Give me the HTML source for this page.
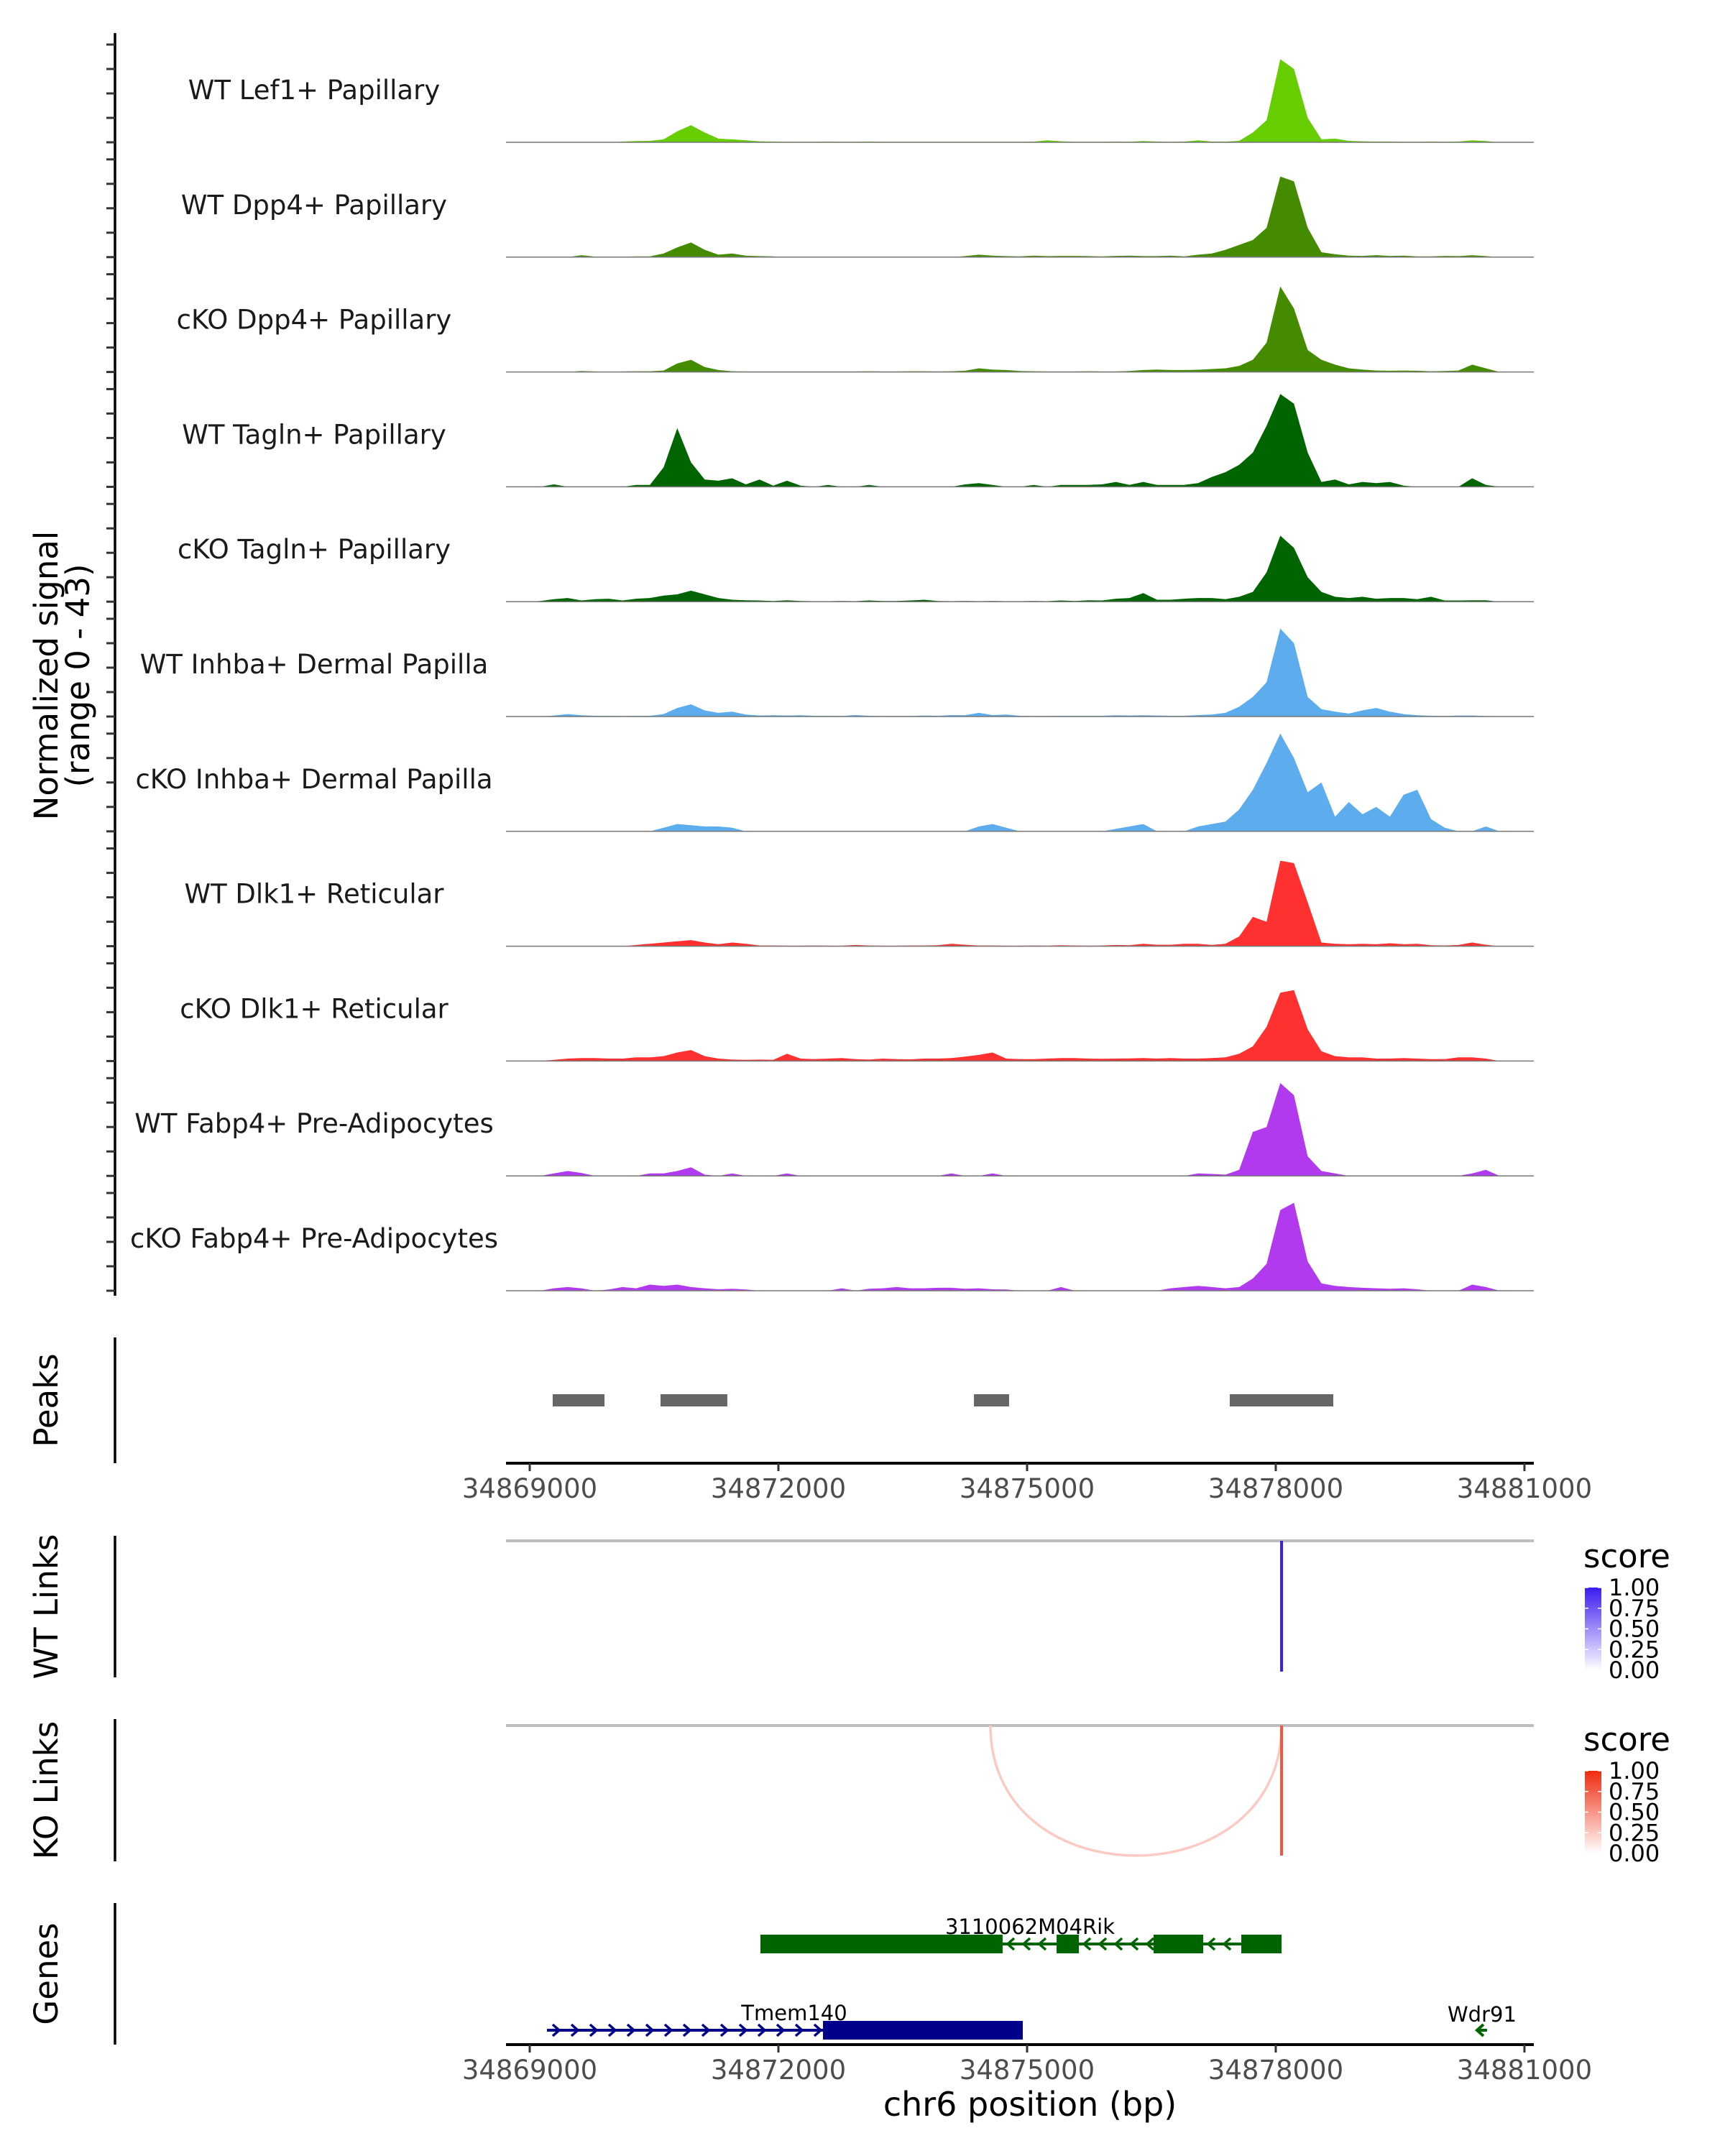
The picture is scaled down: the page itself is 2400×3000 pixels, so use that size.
<!DOCTYPE html>
<html><head><meta charset="utf-8"><style>
html,body{margin:0;padding:0;background:#fff}
svg{display:block;font-family:"DejaVu Sans","Liberation Sans",sans-serif}
</style></head><body>
<svg id="chart" xmlns="http://www.w3.org/2000/svg" width="2400" height="3000" viewBox="0 0 2400 3000">
<rect x="0" y="0" width="2400" height="3000" fill="#fff"/>
<g id="tracks"></g><g id="lower"></g>
</svg>
<script>
const trackNames=["WT Lef1+ Papillary","WT Dpp4+ Papillary","cKO Dpp4+ Papillary","WT Tagln+ Papillary","cKO Tagln+ Papillary","WT Inhba+ Dermal Papilla","cKO Inhba+ Dermal Papilla","WT Dlk1+ Reticular","cKO Dlk1+ Reticular","WT Fabp4+ Pre-Adipocytes","cKO Fabp4+ Pre-Adipocytes"];
const trackColors=["#66cd00","#458b00","#458b00","#006400","#006400","#5cacee","#5cacee","#ff3030","#ff3030","#b23aee","#b23aee"];
const sigLef1WT=[0,0,0,0,0,0,0,0,0.3,0.5, 0.6,1.2,4.5,7,4,1.5,1.2,0.8,0.4,0.3, 0.2,0.2,0.2,0.3,0.2,0.2,0.3,0.2,0.2,0.2, 0.2,0.2,0.2,0.2,0.2,0.2,0.2,0.2,0.3,0.8, 0.4,0.2,0.2,0.2,0.3,0.2,0.5,0.3,0.2,0.3, 0.8,0.3,0.3,0.6,4,9,34,30,10,1.2, 1.5,0.6,0.4,0.3,0.3,0.2,0.2,0.3,0.2,0.3, 0.8,0.5,0,0,0];
const sigDpp4WT=[0,0,0,0,0,0.8,0.2,0,0.2,0.3, 0.3,1.5,4,6,3,1,1.5,0.6,0.4,0.3, 0,0,0,0,0,0,0,0,0,0, 0,0,0,0.4,1,0.6,0.4,0.3,0.6,0.4, 0.5,0.5,0.4,0.3,0.5,0.6,0.4,0.4,0.6,0.3, 1,1.5,3,5,7,12,33,31,12,2, 1.2,0.6,0.5,0.8,0.5,0.6,0.3,0.3,0.5,0.4, 0.8,0.4,0,0,0];
const sigDpp4KO=[0,0,0,0,0,0.4,0.2,0,0.2,0.3, 0.3,0.6,3.5,5,2,0.8,0.3,0.2,0.2,0.2, 0.2,0.2,0.2,0.2,0.2,0.2,0.3,0.2,0.2,0.3, 0.3,0.2,0.3,0.5,1.5,1,0.8,0.4,0.3,0.2, 0.2,0.2,0.3,0.2,0.2,0.4,0.8,1,0.8,0.8, 0.9,1.2,1.5,2.5,5,12,35,26,9,5, 3,1.5,1,0.6,0.5,0.6,0.5,0.3,0.4,0.6, 3,1.5,0,0,0];
const sigTaglnWT=[0,0,0,1,0,0,0,0,0,0.8, 0.8,8,24,10,3,2.5,3.5,1,3,0.5, 2.5,0.5,0,0.8,0,0,0.8,0,0,0, 0,0,0,1,1.5,0.8,0,0,0.8,0, 0.8,0.8,0.8,1,2,0.8,2,0.8,0.8,0.8, 1.5,4,6,9,14,25,38,34,14,2, 3,1,2,1.5,2,0.5,0,0,0,0, 3.5,0.8,0,0,0];
const sigTaglnKO=[0,0,0.3,1,1.5,0.5,1,1.2,0.5,1.2, 1.5,2.5,3,4.5,3,1.5,0.8,0.6,0.5,0.3, 0.6,0.3,0.2,0.2,0.3,0.2,0.5,0.3,0.3,0.5, 0.8,0.3,0.2,0.3,0.2,0.3,0.2,0.2,0.3,0.2, 0.5,0.3,0.6,0.5,1.2,1.5,3.5,0.8,0.8,1.2, 1.5,1.5,1,2,4,12,27,22,10,4, 2,1.5,2,1.2,1.5,1.5,1,2,0.5,0.5, 0.6,0.6,0,0,0];
const sigInhbaWT=[0,0,0,0.4,1,0.5,0.3,0.3,0.2,0.3, 0.3,1,3.5,5,2.5,1.5,2,0.8,0.4,0.5, 0.4,0.5,0.3,0.3,0.2,0.6,0.3,0.2,0.2,0.2, 0.4,0.3,0.6,0.5,1.5,0.6,0.8,0.3,0.2,0.2, 0.3,0.3,0.3,0.3,0.5,0.4,0.5,0.4,0.3,0.3, 0.6,0.8,1.5,4,8,14,36,30,8,3, 2,1.2,2.5,3.5,2,1,0.5,0.3,0.2,0.4, 0.4,0.2,0,0,0];
const sigInhbaKO=[0,0,0,0,0,0,0,0,0,0, 0,1.5,3,2.5,2,2,1.5,0,0,0, 0,0,0,0,0,0,0,0,0,0, 0,0,0,0,2,3,1.5,0,0,0, 0,0,0,0,1,2,3,0,0,0, 2,3,4,9,17,28,40,30,16,20, 6,12,7,10,6,15,17,5,1.5,0, 0,2,0,0,0];
const sigDlk1WT=[0,0,0,0,0,0,0,0,0,0.5, 1,1.5,2,2.5,1.5,0.8,1.5,1,0.3,0.3, 0.2,0.2,0.3,0.2,0.2,0.5,0.3,0.2,0.2,0.3, 0.3,0.4,1,0.6,0.3,0.3,0.2,0.2,0.3,0.2, 0.4,0.3,0.2,0.3,0.5,0.4,1,0.6,0.6,1, 1,0.5,1,4,12,10,35,34,18,1.5, 1,0.8,1,0.8,1.2,0.8,1,0.4,0.3,0.5, 1.5,0.6,0,0,0];
const sigDlk1KO=[0,0,0,0.5,1,1.2,1.2,1,1,1.5, 1.5,2,3.5,4.5,2,1,0.6,0.5,0.6,0.5, 3,1,0.8,1,1.2,0.8,0.6,1,0.8,0.7, 1,1,1.2,1.8,2.5,3.5,1,0.8,0.8,1, 1.2,1.2,1,0.9,1,1.1,1.2,1,1.2,1, 1,1.2,1.5,3,6,14,28,29,13,4, 2,1.5,1.5,1,1,1.2,1,0.8,0.8,1.5, 1.5,1,0,0,0];
const sigFabp4WT=[0,0,0,1,2,1.2,0,0,0,0, 1,1,2,3.5,0.5,0,1,0,0,0, 1,0,0,0,0,0,0,0,0,0, 0,0,1,0,0,1,0,0,0,0, 0,0,0,0,0,0,0,0,0,0, 1,0.8,0.5,2.5,18,20,38,33,8,2, 1,0,0,0,0,0,0,0,0,0, 1,2.5,0,0,0];
const sigFabp4KO=[0,0,0,1,1.5,1,0,0.5,1.5,1, 2.5,2,2.5,1.5,1,0.6,0.8,0.5,0,0, 0,0,0,0,1,0,0.8,1,1.5,1, 1,1.2,1.2,0.8,1,0.6,0.5,0,0,0, 1.5,0,0,0,0,0,0,0,1,1.5, 2,1.5,1,1.5,5,11,33,36,12,3, 2,1.5,1.2,1,0.8,1,0.6,0,0,0, 2.5,1.5,0,0,0];
const signals=[sigLef1WT,sigDpp4WT,sigDpp4KO,sigTaglnWT,sigTaglnKO,sigInhbaWT,sigInhbaKO,sigDlk1WT,sigDlk1KO,sigFabp4WT,sigFabp4KO];
const yTicks=[0,10,20,30,40];
const xTickLabels=[34869000,34872000,34875000,34878000,34881000];
const peakStarts=[34869277,34870578,34874359,34877445];
const peakEnds=[34869902,34871384,34874783,34878694];
const wtLinkStart=[34878070], wtLinkEnd=[34878070], wtLinkScore=[1.0];
const koLinkStart=[34874558,34878070], koLinkEnd=[34878070,34878070], koLinkScore=[0.25,0.8];
const geneRikExonStarts=[34871783,34875356,34876526,34877584];
const geneRikExonEnds=[34874705,34875625,34877125,34878070];
const geneTmemStart=[34869208], geneTmemExonStarts=[34872538], geneTmemExonEnds=[34874948];
const geneWdr91Pos=[34880471];
const legendTicks=["1.00","0.75","0.50","0.25","0.00"];

const NS="http://www.w3.org/2000/svg";
const X0=704, X1=2134;
function xs(bp){return 737+(bp-34869000)*0.11533;}
function binX(i,n){return X0+(X1-X0)*(i+0.5)/n;}
const PXU=3.4, base0=198, tstep=159.8;
function el(tag,attrs,parent,text){const e=document.createElementNS(NS,tag);for(const k in attrs)e.setAttribute(k,attrs[k]);if(text!==undefined)e.textContent=text;parent.appendChild(e);return e;}
const T=document.getElementById('tracks'), L=document.getElementById('lower');

let ax=el('line',{x1:160,y1:46,x2:160,y2:1803,stroke:'#000','stroke-width':3.5},T);

signals.forEach((s,k)=>{
  const b=base0+tstep*k;
  yTicks.forEach(v=>{const t=el('line',{x1:148,y1:b-v*PXU,x2:160,y2:b-v*PXU,stroke:'#333','stroke-width':3},T);
    });
  const n=s.length;
  let d=`M${X0},${b}`;
  s.forEach((v,i)=>{d+=` L${binX(i,n).toFixed(1)},${(b-v*PXU).toFixed(1)}`;});
  d+=` L${X1},${b} Z`;
  const p=el('path',{d:d,fill:trackColors[k]},T);
  
  
  const bl=el('line',{x1:X0,y1:b,x2:X1,y2:b,stroke:'#777','stroke-width':1.5},T);
  
  const lb=el('text',{x:437,y:b-60,'text-anchor':'middle','font-size':37,fill:'#1a1a1a'},T,trackNames[k]);
  
});
const yt=el('text',{transform:'translate(80,940) rotate(-90)','text-anchor':'middle','font-size':45,fill:'#000'},T,'Normalized signal');

const yt2=el('text',{transform:'translate(124,940) rotate(-90)','text-anchor':'middle','font-size':45,fill:'#000'},T,'(range 0 - 43)');


function panelAxis(y1,y2,title,name){
  const a=el('line',{x1:160,y1:y1,x2:160,y2:y2,stroke:'#000','stroke-width':3.5},L);
  
  const t=el('text',{transform:`translate(80,${(y1+y2)/2}) rotate(-90)`,'text-anchor':'middle','font-size':45,fill:'#000'},L,title);
  
}
function xAxis(y,name){
  const a=el('line',{x1:X0,y1:y,x2:X1,y2:y,stroke:'#000','stroke-width':4},L);
  
  xTickLabels.forEach(v=>{
    const t=el('line',{x1:xs(v),y1:y,x2:xs(v),y2:y+11,stroke:'#333','stroke-width':3},L);
    
    const tl=el('text',{x:xs(v),y:y+48,'text-anchor':'middle','font-size':37,fill:'#4d4d4d'},L,String(v));
    
  });
}
panelAxis(1861,2036,'Peaks','peaks');
peakStarts.forEach((s,i)=>{const r=el('rect',{x:xs(s),y:1940,width:xs(peakEnds[i])-xs(s),height:17,fill:'#666'},L);
  });
xAxis(2036,'peaks-x-axis');

function mix(hex,t){const r=parseInt(hex.slice(1,3),16),g=parseInt(hex.slice(3,5),16),b=parseInt(hex.slice(5,7),16);
  const f=v=>Math.round(255+(v-255)*t);return `rgb(${f(r)},${f(g)},${f(b)})`;}
function linksPanel(y1,y2,lineY,starts,ends,scores,color,title,name){
  panelAxis(y1,y2,title,name);
  const g=el('line',{x1:X0,y1:lineY,x2:X1,y2:lineY,stroke:'#bdbdbd','stroke-width':4},L);
  
  const bottom=y2-8;
  starts.forEach((s,i)=>{
    const a=xs(s), b=xs(ends[i]);
    const c=mix(color,scores[i]);
    let p;
    if(Math.abs(b-a)<2){p=el('line',{x1:a,y1:lineY,x2:a,y2:bottom,stroke:c,'stroke-width':4},L);}
    else{const cy=(bottom-0.25*lineY)/0.75;
      p=el('path',{d:`M${a},${lineY} C${a},${cy} ${b},${cy} ${b},${lineY}`,fill:'none',stroke:c,'stroke-width':3.5},L);}
    
  });
  const ly=y1+44;
  const st=el('text',{x:2203,y:ly,'font-size':45,fill:'#000'},L,'score');
  
  const gid='grad'+name;
  const defs=el('defs',{},L);const lg=el('linearGradient',{id:gid,x1:0,y1:1,x2:0,y2:0},defs);
  el('stop',{offset:'0','stop-color':'#fff'},lg);el('stop',{offset:'1','stop-color':color},lg);
  const bt=ly+28, bh=115;
  const cb=el('rect',{x:2205,y:bt,width:23,height:bh,fill:`url(#${gid})`},L);
  
  legendTicks.forEach((t,i)=>{const yy=bt+bh*i/4;
    el('line',{x1:2205,y1:yy,x2:2210,y2:yy,stroke:'#fff','stroke-width':1.5},L);
    el('line',{x1:2223,y1:yy,x2:2228,y2:yy,stroke:'#fff','stroke-width':1.5},L);
    const tl=el('text',{x:2238,y:yy+11,'font-size':32,fill:'#000'},L,t);
    });
}
linksPanel(2137,2334,2144,wtLinkStart,wtLinkEnd,wtLinkScore,'#3a1cf0','WT Links','wt-links');
linksPanel(2392,2590,2401,koLinkStart,koLinkEnd,koLinkScore,'#f02a10','KO Links','ko-links');

panelAxis(2648,2845,'Genes','genes');
const green='#006400', navy='#00008b';
function chevrons(x1,x2,y,dir,color,step){
  for(let x=x1+step/2;x<x2-4;x+=step){
    const d=dir<0?`M${x+5},${y-8} L${x-4},${y} L${x+5},${y+8}`:`M${x-5},${y-8} L${x+4},${y} L${x-5},${y+8}`;
    const c=el('path',{d:d,fill:'none',stroke:color,'stroke-width':3.5},L);
    
  }
}
const gy1=2705;
const rs=xs(geneRikExonStarts[0]), re=xs(geneRikExonEnds[geneRikExonEnds.length-1]);
let gl=el('line',{x1:rs,y1:gy1,x2:re,y2:gy1,stroke:green,'stroke-width':4},L);

for(let i=0;i<geneRikExonStarts.length-1;i++)chevrons(xs(geneRikExonEnds[i]),xs(geneRikExonStarts[i+1]),gy1,-1,green,22);
geneRikExonStarts.forEach((s,i)=>{const r=el('rect',{x:xs(s),y:gy1-13,width:xs(geneRikExonEnds[i])-xs(s),height:26,fill:green},L);
  });
let tx=el('text',{x:1433,y:2691,'text-anchor':'middle','font-size':29,fill:'#000'},L,'3110062M04Rik');

const gy2=2825;
gl=el('line',{x1:xs(geneTmemStart[0]),y1:gy2,x2:xs(geneTmemExonStarts[0]),y2:gy2,stroke:navy,'stroke-width':4},L);

chevrons(xs(geneTmemStart[0]),xs(geneTmemExonStarts[0]),gy2,1,navy,26);
let ex=el('rect',{x:xs(geneTmemExonStarts[0]),y:gy2-13,width:xs(geneTmemExonEnds[0])-xs(geneTmemExonStarts[0]),height:26,fill:navy},L);

tx=el('text',{x:1105,y:2811,'text-anchor':'middle','font-size':29,fill:'#000'},L,'Tmem140');

const wx=xs(geneWdr91Pos[0]);
let wa=el('path',{d:`M${wx+4},${gy2-8} L${wx-5},${gy2} L${wx+4},${gy2+8} M${wx-5},${gy2} L${wx+9},${gy2}`,fill:'none',stroke:green,'stroke-width':4},L);

tx=el('text',{x:wx+2,y:2813,'text-anchor':'middle','font-size':29,fill:'#000'},L,'Wdr91');

xAxis(2845,'genes-x-axis');
tx=el('text',{x:1433,y:2944,'text-anchor':'middle','font-size':46,fill:'#000'},L,'chr6 position (bp)');

</script>
</body></html>
